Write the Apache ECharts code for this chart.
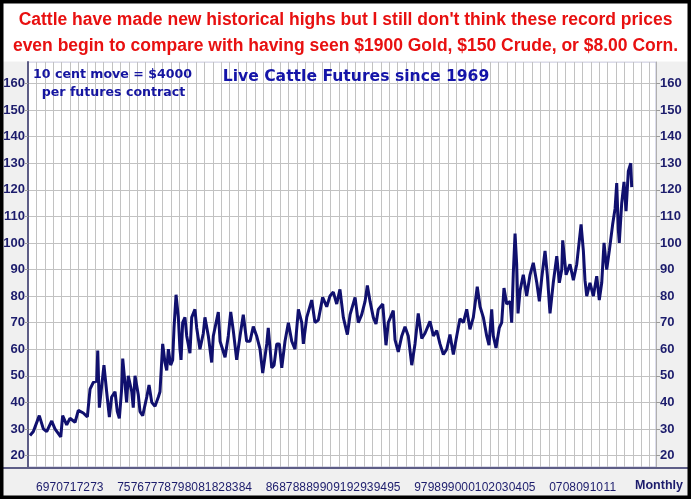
<!DOCTYPE html>
<html><head><meta charset="utf-8">
<script src="https://cdn.jsdelivr.net/npm/echarts@6/dist/echarts.min.js"></script>
<style>html,body{margin:0;padding:0;background:#f0f0f0}#c{width:691px;height:499px}</style>
</head><body><div id="c"></div>
<script>
// ---- data (decimal year, price in cents/lb) ----
const years = [
1968.05,1968.30,1968.74,1969.04,1969.29,1969.66,1969.90,1970.33,1970.47,1970.77,
1971.01,1971.39,1971.63,1972.00,1972.30,1972.50,1972.74,1972.99,1973.07,1973.19,
1973.36,1973.53,1973.73,1973.93,1974.10,1974.35,1974.52,1974.67,1974.84,1974.92,
1975.09,1975.21,1975.33,1975.59,1975.70,1975.83,1976.07,1976.20,1976.40,1976.70,
1976.87,1977.07,1977.31,1977.56,1977.68,1977.88,1978.05,1978.18,1978.30,1978.47,
1978.62,1978.72,1978.87,1979.04,1979.16,1979.24,1979.36,1979.53,1979.66,1979.90,
1980.03,1980.27,1980.40,1980.64,1980.89,1981.01,1981.26,1981.51,1981.63,1982.00,
1982.13,1982.50,1982.74,1982.92,
1983.11,1983.36,1983.61,1983.85,1984.10,1984.35,1984.59,1984.84,1985.09,1985.29,
1985.59,1985.70,1985.96,1986.13,1986.33,1986.52,1986.70,1986.94,1987.19,1987.44,
1987.68,1987.93,1988.18,1988.30,1988.55,1988.92,1989.16,1989.41,1989.73,1990.03,
1990.27,1990.52,1990.77,1991.01,1991.26,1991.56,1991.76,1992.13,1992.37,1992.62,
1992.87,1993.04,1993.24,1993.48,1993.68,1993.85,1994.18,1994.42,1994.59,1994.96,
1995.09,1995.33,1995.59,1995.83,1996.07,1996.33,1996.57,1996.81,1997.07,1997.31,
1997.68,1997.93,1998.18,1998.42,1998.67,1998.92,1999.16,1999.41,1999.66,1999.90,
2000.15,2000.40,2000.64,2000.89,2001.18,2001.39,2001.63,2001.88,2002.05,2002.25,
2002.37,2002.57,2002.81,2002.99,2003.16,2003.36,2003.61,2003.73,2003.85,2003.98,
2004.10,2004.20,2004.35,2004.59,2004.84,2005.09,2005.33,2005.59,2005.78,2005.96,
2006.20,2006.37,2006.57,2006.81,2007.07,2007.26,2007.44,2007.51,2007.76,2008.05,
2008.30,2008.55,2008.87,2009.04,2009.16,2009.29,2009.53,2009.78,2010.03,2010.22,
2010.40,2010.57,2010.77,2010.96,2011.21,2011.39,2011.51,2011.63,2011.70,2011.88,
2012.05,2012.20,2012.37,2012.55,2012.62
];
const prices = [
27.5,29,35,30,29,33,30,27,35,31.5,
34,32.5,37,36,34.5,45,47.5,48,59.5,38,
46,54,44,34.5,42,44,36.5,34,45,56.5,
47,40,50,44,38,50,43,36.5,35,42,
46.5,40,38.5,42,44,62,55,52,60,54,
56,68,80.5,72,60,56,70,72,65,58.5,
72,75,68,60,66,72,65,55,65,74,
63,57,65,74,
67,56,65,73,63,63,68.5,65,60,51,
62,68,53,54,62,62,53,63,70,63,
60,75,70,62,72,78.5,70,71,79.5,76,
80,81.5,77,82.5,72,65.5,73,79.5,70,73,
78,84,78,72,69.5,75,77,61.5,70,74.5,
63.5,59,65,68.5,65,54,62,73.5,64,66,
70.5,65,67,62,58,60,65.5,58,65,71.5,
70,75,67.5,72,83.5,76,72,65,61.5,75,
65,60.5,68,70,83,77,78,70,88.5,103.5,
92,73.5,82,88,80,88,92.5,85,78,87,
97,88,73.5,85,95,85,90,101,88,92,
86,92,107,97,86,80,85,80,87.5,78.5,
85,100,90,97,107,113,122.5,105,100,115,
123,112,127,130,121
];
const priceTicks = [20,30,40,50,60,70,80,90,100,110,120,130,140,150,160];
const yearLabels = [1969,1970,1971,1972,1973,1975,1976,1977,1978,1979,1980,1981,1982,1983,1984,
  1986,1987,1988,1989,1990,1991,1992,1993,1994,1995,1997,1998,1999,2000,2001,2002,2003,2004,2005,
  2007,2008,2009,2010,2011];
const titleLines = [
  "Cattle have made new historical highs but I still don't think these record prices",
  "even begin to compare with having seen $1900 Gold, $150 Crude, or $8.00 Corn."
];
const noteLines = ["10 cent move = $4000", "per futures contract"];
const chartTitle = "Live Cattle Futures since 1969";
const periodLabel = "Monthly";

// ---- layout ----
const X_MIN = 1967.904, X_MAX = 2014.42;
const Y_MIN = 15.67, Y_MAX = 168.1;
const GRID_STEP = 8.4 / 13.5;           // vertical grid spacing (years)
const vGrid = [];
for (let v = X_MIN + GRID_STEP; v < X_MAX - 0.05; v += GRID_STEP) vGrid.push(+v.toFixed(4));

const navy = '#1c1c6c';
const chart = echarts.init(document.getElementById('c'), null, {renderer: 'canvas'});
chart.setOption({
  animation: false,
  backgroundColor: '#f0f0f0',
  grid: {left: 28, right: 35, top: 62, bottom: 32, show: true, backgroundColor: '#fff',
         borderColor: '#b9b9d6', borderWidth: 1, outerBoundsMode: 'none', containLabel: false},
  xAxis: [{
    type: 'value', min: X_MIN, max: X_MAX,
    axisLine: {show: false},
    axisTick: {show: false, customValues: vGrid},
    splitLine: {show: true, lineStyle: {color: '#c2c2c2', width: 1}},
    axisLabel: {customValues: yearLabels, hideOverlap: false, showMinLabel: true, showMaxLabel: true,
      margin: 15, color: navy, fontSize: 12, fontFamily: 'Liberation Sans',
      formatter: v => String(Math.round(v) % 100).padStart(2, '0')}
  }],
  yAxis: [{
    type: 'value', min: Y_MIN, max: Y_MAX, position: 'left',
    axisLine: {show: true, lineStyle: {color: '#5d5d86', width: 2}},
    axisTick: {show: true, customValues: priceTicks, length: 3, lineStyle: {color: '#9a9a9a'}},
    splitLine: {show: true, lineStyle: {color: '#c2c2c2', width: 1}},
    axisLabel: {customValues: priceTicks, margin: 3, color: navy, fontSize: 13, fontWeight: 'bold',
      fontFamily: 'Liberation Sans', hideOverlap: false}
  }, {
    type: 'value', min: Y_MIN, max: Y_MAX, position: 'right',
    axisLine: {show: true, lineStyle: {color: '#b0b0b0', width: 1}},
    axisTick: {show: true, customValues: priceTicks, length: 4, lineStyle: {color: '#9a9a9a'}},
    splitLine: {show: false},
    axisLabel: {customValues: priceTicks, margin: 4, color: navy, fontSize: 13, fontWeight: 'bold',
      fontFamily: 'Liberation Sans', hideOverlap: false}
  }],
  series: [{
    type: 'line', xAxisIndex: 0, yAxisIndex: 0,
    data: years.map((y, i) => [y, prices[i]]),
    showSymbol: false, symbol: 'none',
    lineStyle: {color: '#10106e', width: 3}
  }],
  graphic: [
    {type: 'rect', shape: {x: 3, y: 3, width: 685, height: 58.5}, style: {fill: '#ffffff'}, z: 0},
    {type: 'text', style: {text: titleLines[0], x: 345.5, y: 20.5, align: 'center', verticalAlign: 'middle',
      fill: '#e81010', fontSize: 17.5, fontWeight: 'bold', fontFamily: 'Liberation Sans'}, z: 5},
    {type: 'text', style: {text: titleLines[1], x: 345.5, y: 46, align: 'center', verticalAlign: 'middle',
      fill: '#e81010', fontSize: 17.5, fontWeight: 'bold', fontFamily: 'Liberation Sans'}, z: 5},
    {type: 'text', style: {text: noteLines[0], x: 112.5, y: 75, align: 'center', verticalAlign: 'middle',
      fill: '#1515a0', fontSize: 12.6, fontWeight: 'bold', fontFamily: 'DejaVu Sans'}, z: 5},
    {type: 'text', style: {text: noteLines[1], x: 113.5, y: 93, align: 'center', verticalAlign: 'middle',
      fill: '#1515a0', fontSize: 12.6, fontWeight: 'bold', fontFamily: 'DejaVu Sans'}, z: 5},
    {type: 'text', style: {text: chartTitle, x: 356, y: 77, align: 'center', verticalAlign: 'middle',
      fill: '#1414a8', fontSize: 15.6, fontWeight: 'bold', fontFamily: 'DejaVu Sans'}, z: 5},
    {type: 'text', style: {text: periodLabel, x: 659, y: 486, align: 'center', verticalAlign: 'middle',
      fill: navy, fontSize: 12.5, fontWeight: 'bold', fontFamily: 'Liberation Sans'}, z: 5},
    {type: 'line', shape: {x1: 3, y1: 468, x2: 688, y2: 468}, style: {stroke: '#5d5d86', lineWidth: 2}, z: 6},
    {type: 'rect', shape: {x: 0, y: 0, width: 691, height: 499}, style: {fill: 'none', stroke: '#000', lineWidth: 7}, z: 100}
  ]
});
</script></body></html>
